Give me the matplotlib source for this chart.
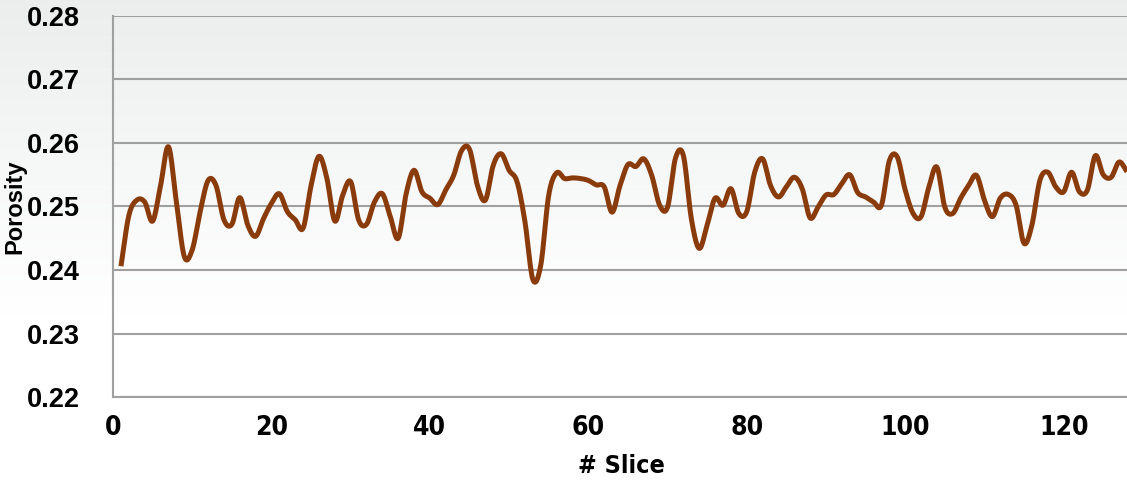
import matplotlib
matplotlib.use("Agg")
import matplotlib.pyplot as plt
from matplotlib import font_manager
import numpy as np

# porosity per slice
slices = list(range(1, 129))
porosity = [
    0.2406, 0.2486, 0.2510, 0.2507, 0.2477, 0.2533, 0.2594, 0.2507, 0.2421, 0.2432,
    0.2492, 0.2541, 0.2533, 0.2479, 0.2472, 0.2514, 0.2471, 0.2453, 0.2481, 0.2505,
    0.2520, 0.2492, 0.2479, 0.2466, 0.2533, 0.2579, 0.2544, 0.2477, 0.2518, 0.2539,
    0.2479, 0.2472, 0.2507, 0.2520, 0.2484, 0.2450, 0.2520, 0.2557, 0.2523, 0.2513,
    0.2503, 0.2526, 0.2549, 0.2588, 0.2590, 0.2533, 0.2510, 0.2565, 0.2583, 0.2557,
    0.2539, 0.2476, 0.2385, 0.2408, 0.2518, 0.2553, 0.2544, 0.2545, 0.2544, 0.2541,
    0.2534, 0.2531, 0.2491, 0.2533, 0.2566, 0.2563, 0.2575, 0.2549, 0.2502, 0.2499,
    0.2576, 0.2580, 0.2481, 0.2434, 0.2471, 0.2513, 0.2502, 0.2528, 0.2489, 0.2492,
    0.2554, 0.2575, 0.2533, 0.2515, 0.2531, 0.2546, 0.2528, 0.2482, 0.2499, 0.2518,
    0.2519, 0.2536, 0.2550, 0.2522, 0.2515, 0.2507, 0.2502, 0.2572, 0.2578, 0.2526,
    0.2489, 0.2484, 0.2531, 0.2562, 0.2499, 0.2489, 0.2513, 0.2533, 0.2549, 0.2510,
    0.2484, 0.2513, 0.2519, 0.2502, 0.2442, 0.2471, 0.2541, 0.2554, 0.2531, 0.2523,
    0.2554, 0.2523, 0.2526, 0.2580, 0.2550, 0.2546, 0.2570, 0.2555,
]
x_ticks = [0, 20, 40, 60, 80, 100, 120]
y_ticks = [0.22, 0.23, 0.24, 0.25, 0.26, 0.27, 0.28]


def smooth(xs, ys, n=12):
    # Catmull-Rom curve through the points, like a spreadsheet "smoothed line"
    xs = np.asarray(xs, float)
    ys = np.asarray(ys, float)
    px = np.concatenate([[2 * xs[0] - xs[1]], xs, [2 * xs[-1] - xs[-2]]])
    py = np.concatenate([[2 * ys[0] - ys[1]], ys, [2 * ys[-1] - ys[-2]]])
    t = np.linspace(0, 1, n, endpoint=False)
    out_x, out_y = [], []
    for i in range(1, len(px) - 2):
        for p, out in ((px, out_x), (py, out_y)):
            p0, p1, p2, p3 = p[i - 1], p[i], p[i + 1], p[i + 2]
            out.extend(0.5 * ((2 * p1) + (-p0 + p2) * t
                              + (2 * p0 - 5 * p1 + 4 * p2 - p3) * t ** 2
                              + (-p0 + 3 * p1 - 3 * p2 + p3) * t ** 3))
    out_x.append(xs[-1])
    out_y.append(ys[-1])
    return out_x, out_y


names = {f.name for f in font_manager.fontManager.ttflist}
if "Liberation Sans Narrow" in names:
    narrow = dict(family="Liberation Sans Narrow")
else:
    narrow = dict(family="DejaVu Sans", stretch="condensed")

fig = plt.figure(figsize=(11.27, 4.83), dpi=100)

# light grey to white gradient behind everything
bg = fig.add_axes([0, 0, 1, 1], zorder=-1)
grad = np.linspace(0, 1, 256).reshape(-1, 1)
top = np.array([0.925, 0.933, 0.933])
bottom = np.array([1.0, 1.0, 1.0])
mix = np.clip(grad / 0.65, 0, 1)
img = top + (bottom - top) * mix[..., None]
bg.imshow(img, aspect="auto", extent=[0, 1, 0, 1], origin="upper")
bg.axis("off")

ax = fig.add_axes([0.1003, 0.178, 0.8997, 0.789])
ax.set_facecolor("none")

sx, sy = smooth(slices, porosity)
ax.plot(sx, sy, color="#8a3b0c", linewidth=3.6, solid_capstyle="butt", clip_on=True)

ax.set_xlim(0, 128)
ax.set_ylim(0.22, 0.28)
ax.set_xticks(x_ticks)
ax.set_yticks(y_ticks)
ax.set_yticklabels([f"{v:.2f}" for v in y_ticks], fontsize=19.5, fontweight="bold",
                   fontfamily="Liberation Sans")
ax.set_xticklabels([str(v) for v in x_ticks], fontsize=19, fontweight="bold", **narrow)
ax.tick_params(axis="both", length=0)
ax.tick_params(axis="y", pad=24)
ax.tick_params(axis="x", pad=13)

ax.grid(axis="y", color="#a0a0a0", linewidth=1.5)
ax.set_axisbelow(True)
for side in ("top", "right"):
    ax.spines[side].set_visible(False)
for side in ("left", "bottom"):
    ax.spines[side].set_color("#a0a0a0")
    ax.spines[side].set_linewidth(1.5)

# axis titles placed in figure coordinates
fig.text(621 / 1127, 1 - 466 / 483, "# Slice", fontsize=18, fontweight="bold",
         ha="center", va="center", **narrow)
fig.text(15 / 1127, 1 - 207 / 483, "Porosity", fontsize=17, fontweight="bold",
         family="Liberation Sans", rotation=90, ha="center", va="center")

fig.savefig("out.png", dpi=100)
